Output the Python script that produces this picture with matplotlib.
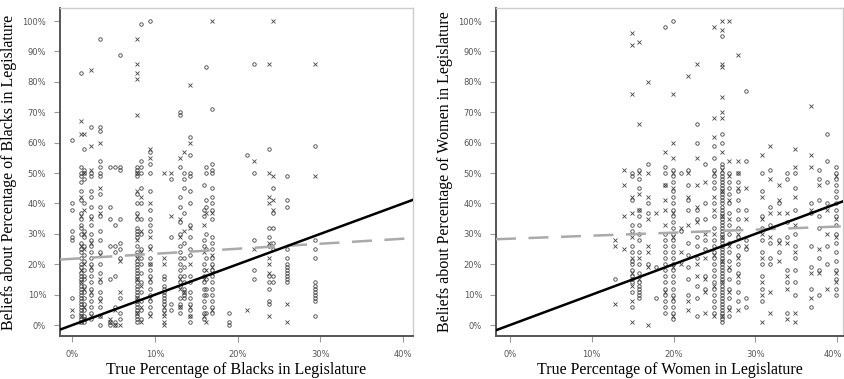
import numpy as np
import matplotlib.pyplot as plt
import matplotlib.transforms as mtransforms

# ---- Blacks panel: column positions (true %) and beliefs (%) ----
blk_x = [0, 1, 1.4, 2.2, 3.3, 4.5, 5.2, 5.8, 7.8, 8.3, 9.4, 11.1, 11.9, 13, 13.5,
         14.2, 15.9, 16.2, 16.9, 18.9, 21.1, 22, 23.8, 24.3, 26, 29.3]
blk_circ = [
    [61, 40, 38, 31, 29, 28, 9, 3],
    [83, 52, 50, 49, 47, 44, 41, 37, 35, 33, 32, 30, 27, 25, 24, 22, 20, 19, 17, 16,
     15, 14, 13, 12, 11, 10, 9, 8, 7, 6, 5, 4, 3, 2, 1],
    [58, 51, 50, 48, 40, 31, 29, 26, 23, 21, 18, 16, 15, 13, 11, 9, 7, 5, 3, 2, 1],
    [65, 50, 49, 44, 42, 39, 36, 33, 30, 28, 26, 24, 22, 20, 18, 16, 14, 12, 10, 8, 6, 4, 2],
    [94, 65, 64, 54, 52, 50, 49, 43, 39, 36, 31, 28, 24, 20, 17, 14, 11, 9, 6, 3, 0],
    [52, 39, 35, 26, 15, 1, 0],
    [52, 33, 26, 24, 16, 6, 1, 0],
    [89, 52, 51, 35, 27, 25, 22, 9, 4, 2],
    [52, 51, 50, 49, 43, 40, 37, 35, 32, 31, 30, 29, 26, 24, 23, 21, 20, 19, 18, 17,
     16, 15, 14, 13, 12, 11, 10, 9, 8, 7, 6, 5, 4, 3, 2, 1],
    [99, 54, 52, 50, 45, 40, 35, 30, 25, 22, 20, 17, 14, 11, 8, 5, 2],
    [100, 57, 53, 50, 44, 38, 35, 33, 31, 26, 22, 20, 18, 16, 14, 12, 10, 8, 6, 4],
    [16, 15, 13, 12, 11, 10, 9, 8, 7, 5],
    [48, 29, 7, 5],
    [70, 69, 52, 42, 39, 34, 30, 26, 24, 22, 20, 18, 16, 14, 13, 9, 7, 6, 4],
    [50, 48, 45, 37, 27, 22, 19, 16, 14, 12, 11, 10, 9],
    [62, 56, 50, 49, 44, 40, 33, 29, 25, 23, 16, 14, 11, 9, 7, 5, 3, 1],
    [46, 38, 36, 28, 26, 20, 18, 16, 14, 12, 10, 8, 6, 4, 2],
    [85, 52, 50, 41, 39, 30, 25, 22, 15, 12, 10, 4],
    [71, 53, 51, 50, 45, 42, 40, 38, 35, 29, 27, 25, 22, 20, 18, 16, 14, 12, 10, 8, 6, 4],
    [4, 1, 0],
    [56],
    [86, 50, 28, 18, 15],
    [58, 32, 29, 26, 16, 14, 12, 8, 7],
    [45, 37, 32, 27, 25, 16, 14],
    [49, 41, 39, 25, 22, 20, 19, 18, 17, 16, 15, 14],
    [59, 28, 25, 22, 14, 13, 12, 11, 10, 9, 8, 3],
]
blk_cross = [
    [5],
    [67, 63, 42, 36, 26, 18, 14, 3, 1],
    [63, 50, 38, 30, 25, 20, 12, 6, 2],
    [84, 59, 51, 35, 27, 19, 11, 3],
    [60, 45, 37, 23, 15, 8, 3],
    [2, 1],
    [5, 0],
    [21, 11, 0],
    [94, 86, 83, 81, 69, 50, 44, 36, 28, 22, 15, 9, 4],
    [42, 31, 24, 13, 6, 1],
    [58, 55, 40, 29, 25, 20, 15, 9, 3],
    [50, 22, 20, 6, 4, 3, 1, 0],
    [50, 36],
    [55, 35, 29, 15, 12, 6],
    [57, 31, 11],
    [79, 60, 32, 20, 6, 3],
    [33, 24, 15, 3],
    [37, 18, 1],
    [100, 37, 23, 19, 17, 5],
    [],
    [5],
    [54, 25],
    [86, 50, 42, 40, 27, 22, 20, 17, 3],
    [100, 49, 41, 38],
    [7, 1],
    [86, 49],
]

# ---- Women panel ----
wom_x = [12.9, 13.9, 14.9, 15.8, 16.9, 17.9, 18.9, 19.9, 20.9, 21.8, 22.8, 23.8, 24.9,
         25.9, 26.8, 27.9, 28.9, 30.8, 31.8, 32.9, 33.9, 34.8, 36.8, 37.8, 38.8, 39.9]
wom_circ = [
    [15],
    [],
    [50, 49, 41, 33, 31, 26, 24, 21, 20, 18, 16, 15, 14, 11, 6],
    [51, 48, 45, 38, 36, 33, 30, 28, 24, 20, 17, 14, 13, 12, 11, 10, 9],
    [53, 40, 37, 20],
    [19, 9],
    [98, 52, 50, 46, 30, 28, 26, 24, 22, 20, 18, 16, 14, 12, 10, 8, 6, 4],
    [100, 51, 49, 47, 44, 42, 40, 38, 36, 34, 32, 30, 28, 26, 24, 22, 20, 18, 16, 14,
     12, 10, 8, 6, 4, 2],
    [50, 31],
    [51, 46, 41, 38, 27, 23, 19, 15, 10],
    [66, 60, 38, 35, 29, 26, 22, 13, 9, 3],
    [53, 40, 35, 28, 25, 16, 12],
    [59, 55, 51, 49, 47, 45, 40, 36, 32, 28, 26, 24, 22, 20, 18, 16, 14, 12, 10, 8, 6, 4],
    [95, 63, 60, 53, 52, 50, 49, 48, 47, 46, 45, 44, 43, 42, 41, 40, 39, 38, 37, 36, 35,
     34, 33, 32, 31, 30, 29, 28, 27, 26, 25, 24, 23, 22, 21, 20, 19, 18, 17, 16, 15, 14,
     13, 12, 11, 10, 9, 8, 7, 6, 5, 4, 3, 2, 1],
    [50, 47, 45, 43, 40, 37, 33, 30, 27, 24, 21, 18, 15, 12, 9, 6, 3],
    [50, 47, 44, 41, 38, 35, 32, 29, 26, 23, 20, 17, 14, 11, 8],
    [77, 54, 38, 28, 25, 9, 6],
    [50, 44, 36, 32, 28, 24, 20, 16, 12, 8],
    [51, 39, 33, 27, 22, 20],
    [40, 28, 24],
    [50, 48, 34, 29, 18, 14, 4],
    [50, 45, 38, 30, 26, 22, 18, 14, 10],
    [40, 37, 26, 19, 12, 6],
    [51, 48, 41, 36, 32, 22, 18, 10],
    [63, 54, 47, 40, 26, 20],
    [52, 50, 48, 46, 44, 42, 40, 38, 36, 33, 30, 27, 24, 21, 18, 15, 12, 10],
]
wom_cross = [
    [28, 26, 7],
    [51, 46, 36, 25],
    [96, 92, 76, 42, 37, 29, 22, 17, 13, 8, 1],
    [93, 66, 50, 43, 38, 22, 15],
    [80, 50, 42, 35, 26, 24, 19, 0],
    [37],
    [57, 46, 41, 38, 33, 11],
    [76, 60, 55, 50, 45, 37, 29, 19, 9, 3],
    [32, 24, 20],
    [82, 50, 42, 33, 8, 5],
    [86, 55, 46, 39, 34, 20, 16],
    [47, 30, 22, 15, 11, 4],
    [98, 68, 62, 50, 42, 38, 30, 23, 13, 3],
    [100, 97, 86, 85, 75, 70, 68, 57, 51, 44, 36, 29, 21, 14, 3],
    [100, 54, 49, 41, 35, 26, 19, 11, 5],
    [89, 54, 50, 45, 30, 22, 16, 5],
    [45, 35, 26],
    [56, 42, 35, 30, 22, 14, 10, 1],
    [59, 48, 37, 29, 11, 4],
    [46, 41, 37, 27, 21],
    [37, 27, 16, 12, 2],
    [58, 52, 42, 33, 24, 4, 1],
    [72, 56, 52, 38, 17, 9],
    [46, 25, 17],
    [38, 30, 12],
    [49, 35, 29, 17, 14],
]

# fitted lines: (intercept, slope)
blk_fit = (21.8, 0.165)
wom_fit = (28.4, 0.10)

x_ticks = [0, 10, 20, 30, 40]
y_ticks = [0, 10, 20, 30, 40, 50, 60, 70, 80, 90, 100]


def flatten(xs, groups):
    px, py = [], []
    for xv, ys in zip(xs, groups):
        px += [xv] * len(ys)
        py += ys
    return px, py


def draw_panel(ax, xs, circ, cross, fit, xlim, xlabel, ylabel):
    cx, cy = flatten(xs, circ)
    kx, ky = flatten(xs, cross)
    ax.plot(cx, cy, 'o', ms=2.5, mfc='none', mec='#444444', mew=0.6, zorder=2)
    ax.plot(kx, ky, 'x', ms=2.7, color='#444444', mew=0.6, zorder=2)
    xx = np.array(xlim)
    ax.plot(xx, xx, color='black', lw=1.8, zorder=4)
    ax.plot(xx, fit[0] + fit[1] * xx, color='#aaaaaa', lw=1.8,
            dashes=(8, 5), zorder=3)
    ax.set_xlim(xlim)
    ax.set_ylim(-3.6, 104.3)
    ax.set_xticks(x_ticks)
    ax.set_yticks(y_ticks)
    ax.set_xticklabels([f'{t}%' for t in x_ticks])
    ax.set_yticklabels([f'{t}%' for t in y_ticks])
    ax.tick_params(labelsize=6.0, labelcolor='#555555', color='#999999',
                   length=4, width=0.8, pad=6)
    for s in ['top', 'right']:
        ax.spines[s].set_color('#cccccc')
        ax.spines[s].set_linewidth(1.0)
    for s in ['left', 'bottom']:
        ax.spines[s].set_color('#555555')
        ax.spines[s].set_linewidth(1.4)
    ax.set_xlabel(xlabel, family='Liberation Serif', fontsize=11.5, labelpad=2)
    ax.set_ylabel(ylabel, family='Liberation Serif', fontsize=11.5, labelpad=4)


fig = plt.figure(figsize=(8.44, 3.79), dpi=100)
W, H = 844, 379
ax1 = fig.add_axes([60 / W, (H - 336) / H, (413 - 60) / W, (336 - 8) / H])
ax2 = fig.add_axes([496 / W, (H - 336) / H, (843 - 496) / W, (336 - 8) / H])

draw_panel(ax1, blk_x, blk_circ, blk_cross, blk_fit, (-1.5, 41.2),
           'True Percentage of Blacks in Legislature',
           'Beliefs about Percentage of Blacks in Legislature')
draw_panel(ax2, wom_x, wom_circ, wom_cross, wom_fit, (-1.7, 40.7),
           'True Percentage of Women in Legislature',
           'Beliefs about Percentage of Women in Legislature')

# last tick label on the right panel sits against the figure edge
last = ax2.get_xticklabels()[-1]
last.set_transform(last.get_transform() +
                   mtransforms.ScaledTranslation(-4 / 100, 0, fig.dpi_scale_trans))

fig.savefig('out.png', dpi=100)
